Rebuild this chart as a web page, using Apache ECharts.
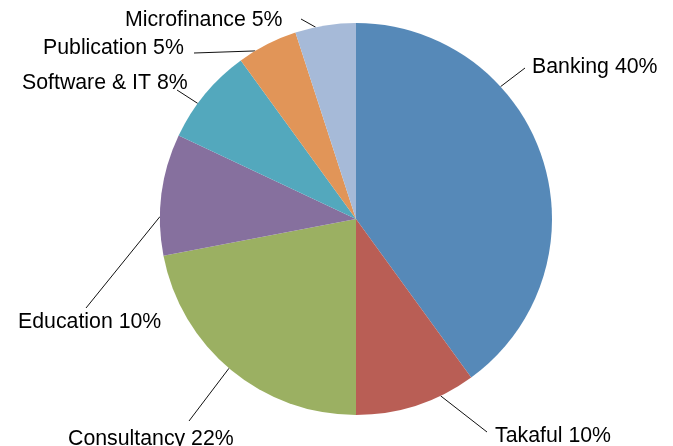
<!DOCTYPE html>
<html>
<head>
<meta charset="utf-8">
<script src="https://cdn.jsdelivr.net/npm/echarts@6/dist/echarts.min.js"></script>
<style>
  html, body { margin: 0; padding: 0; background: #fff; }
  #chart { width: 673px; height: 446px; }
</style>
</head>
<body>
<div id="chart"></div>
<script>
// data
const categories = ['Banking', 'Takaful', 'Consultancy', 'Education', 'Software & IT', 'Publication', 'Microfinance'];
const shares = [40, 10, 22, 10, 8, 5, 5];
const colors = ['#5689B8', '#B95E55', '#9BB062', '#86709E', '#53A8BD', '#E19558', '#A6BAD8'];

// label layout (text left x / middle y, leader line end, where the line leaves the slice)
const labelAt = [[532, 67], [495, 436], [68, 439], [18, 322], [22, 83], [43, 48.5], [125, 20]];
const lineEnd = [[525, 68], [487, 432], [189, 421], [86, 308], [177, 90], [194, 53], [301, 19]];
const lineFrac = [0.33, 0.29, 0.51, 0.32, 0.38, 0.28, 0.34];

const cx = 356, cy = 219, R = 196;
const total = shares.reduce((a, b) => a + b, 0);

var chart = echarts.init(document.getElementById('chart'));

function lineStart(i) {
  let before = 0;
  for (let k = 0; k < i; k++) before += shares[k];
  const a = (before + lineFrac[i] * shares[i]) / total * Math.PI * 2;
  return [cx + R * Math.sin(a), cy - R * Math.cos(a)];
}

const option = {
  backgroundColor: '#fff',
  animation: false,
  series: [
    {
      type: 'pie',
      center: [cx, cy],
      radius: R,
      startAngle: 90,
      clockwise: true,
      avoidLabelOverlap: false,
      itemStyle: { borderWidth: 0 },
      label: {
        show: true,
        position: 'outside',
        overflow: 'none',
        color: '#000',
        fontFamily: 'Liberation Sans, Arial, Helvetica, sans-serif',
        fontSize: 21.3,
        formatter: (p) => p.name + ' ' + p.value + '%'
      },
      labelLine: {
        show: true,
        length: 10,
        length2: 0,
        lineStyle: { color: '#111', width: 1 }
      },
      labelLayout: function (params) {
        const i = params.dataIndex;
        return {
          x: labelAt[i][0],
          y: labelAt[i][1],
          align: 'left',
          verticalAlign: 'middle',
          labelLinePoints: [lineStart(i), lineEnd[i], lineEnd[i]]
        };
      },
      emphasis: { disabled: true },
      data: categories.map((c, i) => ({
        name: c,
        value: shares[i],
        itemStyle: { color: colors[i] }
      }))
    }
  ]
};

chart.setOption(option);
window.onresize = function () {
  chart.resize();
};
</script>
</body>
</html>
